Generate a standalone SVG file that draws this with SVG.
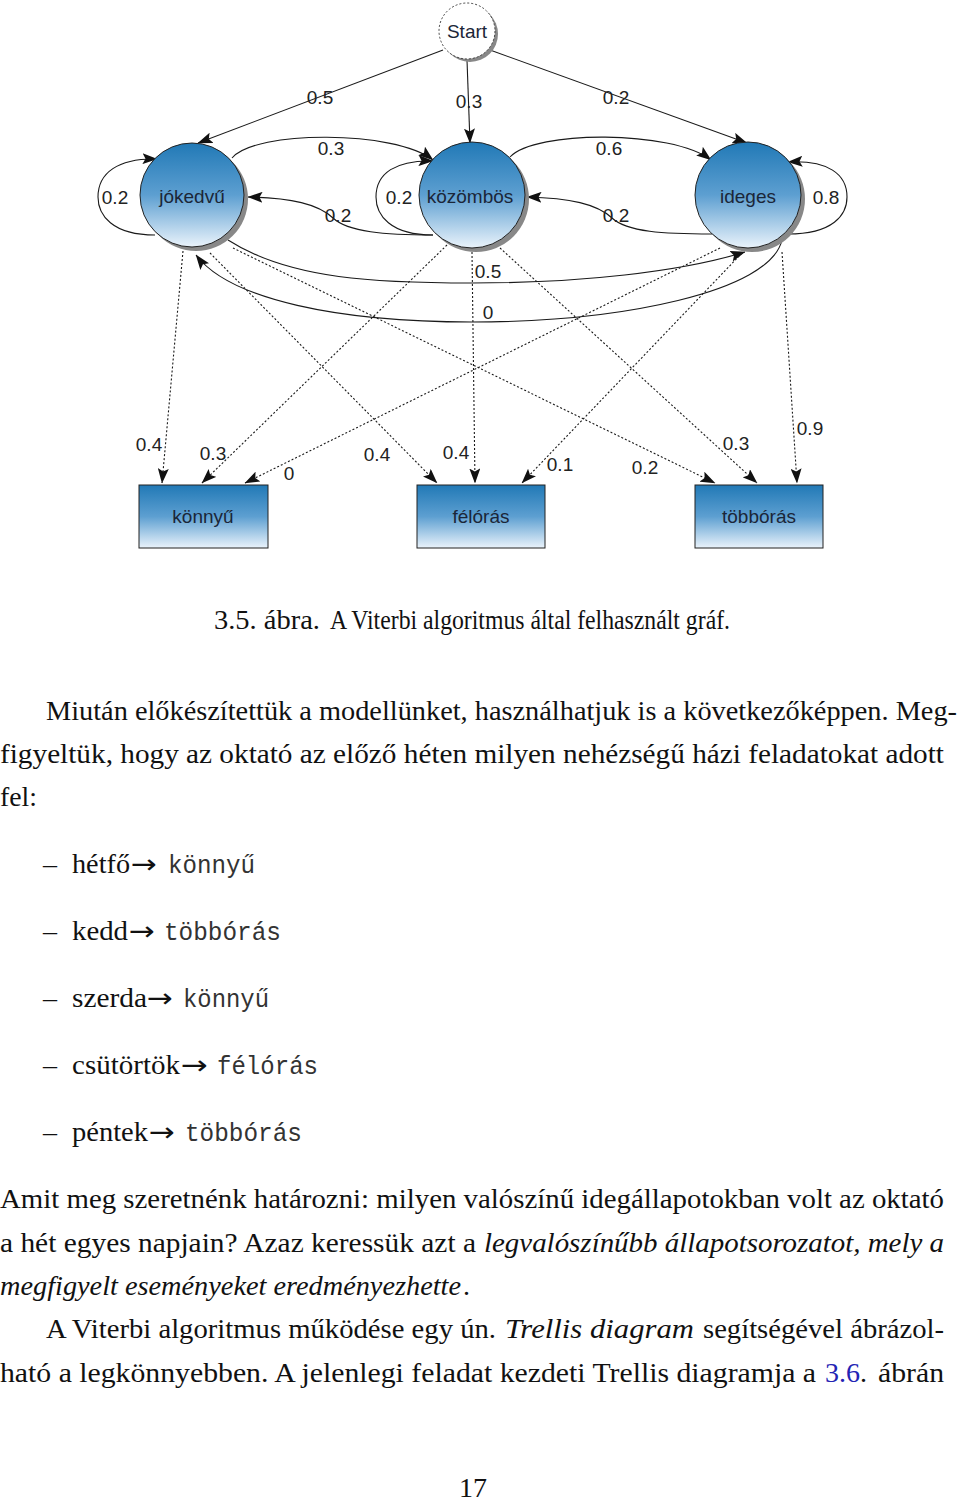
<svg xmlns="http://www.w3.org/2000/svg" width="960" height="1503" viewBox="0 0 960 1503">
<defs>
<linearGradient id="gBlue" x1="0" y1="0" x2="0" y2="1">
<stop offset="0" stop-color="#2179b6"/>
<stop offset="0.5" stop-color="#5d9fd1"/>
<stop offset="1" stop-color="#eaf3fb"/>
</linearGradient>
<marker id="ah" viewBox="0 0 15 11" refX="14.5" refY="5.5" markerWidth="15" markerHeight="11" orient="auto" markerUnits="userSpaceOnUse">
<path d="M0,0 L15,5.5 L0,11 L3,5.5 z" fill="#111"/>
</marker>
<style>
.edge{fill:none;stroke:#1a1a1a;stroke-width:1.1;marker-end:url(#ah)}
.dot{fill:none;stroke:#1a1a1a;stroke-width:1.1;stroke-dasharray:2 2;marker-end:url(#ah)}
.lbl{font-family:"Liberation Sans",Arial,sans-serif;font-size:19px;fill:#222;text-anchor:middle}
.nlbl{font-family:"Liberation Sans",Arial,sans-serif;font-size:19px;fill:#1b2638;text-anchor:middle}
.node{fill:url(#gBlue);stroke:#222;stroke-width:1}
.shadow{fill:#888}
.serif{font-family:"Liberation Serif","Times New Roman",serif;font-size:28px;fill:#111}
.it{font-style:italic}
.arr{font-family:"DejaVu Sans",sans-serif;font-size:26px;fill:#111}
.mono{font-family:"Liberation Mono","Courier New",monospace;font-size:25px;fill:#333}
</style>
</defs>
<rect width="960" height="1503" fill="#fff"/>

<g id="connectors">
<path class="edge" d="M443,50 L198,143"/>
<path class="edge" d="M467,60 L470,143"/>
<path class="edge" d="M490,50 L747,143"/>
<path class="edge" d="M232,158 C255,130 395,130 433,160"/>
<path class="edge" d="M510,157 C535,130 672,130 711,160"/>
<path class="edge" d="M433,235 C385,235 348,232 333,218 C318,204 292,198 248,197"/>
<path class="edge" d="M712,234 C664,234 627,232 612,218 C597,204 570,198 527,197"/>
<path class="edge" d="M155,235 C112,235 98,215 98,197 C98,173 118,158 157,159"/>
<path class="edge" d="M433,235 C390,235 376,215 376,197 C376,173 396,160 433,161"/>
<path class="edge" d="M788,234 C833,234 847,215 847,197 C847,174 828,160 788,162"/>
<path class="edge" d="M228,240 C290,280 380,283 472,283 C580,283 680,272 745,252"/>
<path class="edge" d="M782,240 C770,292 620,322 472,322 C340,322 230,300 196,255"/>
<path class="dot" d="M183,251 L162,483"/>
<path class="dot" d="M210,253 L437,483"/>
<path class="dot" d="M233,248 L715,483"/>
<path class="dot" d="M447,245 L202,483"/>
<path class="dot" d="M472,252 L475,483"/>
<path class="dot" d="M500,248 L757,483"/>
<path class="dot" d="M720,248 L245,483"/>
<path class="dot" d="M742,253 L522,483"/>
<path class="dot" d="M782,252 L797,483"/>
<text class="lbl" x="320" y="104">0.5</text>
<text class="lbl" x="469" y="108">0.3</text>
<text class="lbl" x="616" y="104">0.2</text>
<text class="lbl" x="331" y="155">0.3</text>
<text class="lbl" x="609" y="155">0.6</text>
<text class="lbl" x="115" y="204">0.2</text>
<text class="lbl" x="338" y="222">0.2</text>
<text class="lbl" x="399" y="204">0.2</text>
<text class="lbl" x="616" y="222">0.2</text>
<text class="lbl" x="826" y="204">0.8</text>
<text class="lbl" x="488" y="278">0.5</text>
<text class="lbl" x="488" y="319">0</text>
<text class="lbl" x="149" y="451">0.4</text>
<text class="lbl" x="213" y="460">0.3</text>
<text class="lbl" x="289" y="480">0</text>
<text class="lbl" x="377" y="461">0.4</text>
<text class="lbl" x="456" y="459">0.4</text>
<text class="lbl" x="560" y="471">0.1</text>
<text class="lbl" x="645" y="474">0.2</text>
<text class="lbl" x="736" y="450">0.3</text>
<text class="lbl" x="810" y="435">0.9</text>
</g>

<g id="node-start">
<circle class="shadow" cx="470" cy="34" r="28"/>
<circle cx="467" cy="31" r="28" fill="#fff" stroke="#444" stroke-width="1" stroke-dasharray="2 2"/>
<text class="nlbl" x="467" y="38">Start</text>
</g>
<g id="node-jokedvu">
<circle class="shadow" cx="196" cy="199" r="52"/>
<circle class="node" cx="192" cy="195" r="52"/>
<text class="nlbl" x="192" y="203">jókedvű</text>
</g>
<g id="node-kozombos">
<circle class="shadow" cx="476" cy="199" r="53"/>
<circle class="node" cx="472" cy="195" r="53"/>
<text class="nlbl" x="470" y="203">közömbös</text>
</g>
<g id="node-ideges">
<circle class="shadow" cx="752" cy="199" r="53"/>
<circle class="node" cx="748" cy="195" r="53"/>
<text class="nlbl" x="748" y="203">ideges</text>
</g>
<g id="node-konnyu">
<rect class="node" x="139" y="485" width="129" height="63"/>
<text class="nlbl" x="203" y="523">könnyű</text>
</g>
<g id="node-feloras">
<rect class="node" x="417" y="485" width="128" height="63"/>
<text class="nlbl" x="481" y="523">félórás</text>
</g>
<g id="node-tobboras">
<rect class="node" x="695" y="485" width="128" height="63"/>
<text class="nlbl" x="759" y="523">többórás</text>
</g>

<g id="text">
<text class="serif" x="214" y="629" font-size="25" textLength="106" lengthAdjust="spacingAndGlyphs">3.5. ábra.</text>
<text class="serif" x="330" y="629" font-size="21" textLength="400" lengthAdjust="spacingAndGlyphs">A Viterbi algoritmus által felhasznált gráf.</text>

<text class="serif" x="46" y="720" textLength="911" lengthAdjust="spacingAndGlyphs">Miután előkészítettük a modellünket, használhatjuk is a következőképpen. Meg-</text>
<text class="serif" x="0" y="763" textLength="944" lengthAdjust="spacingAndGlyphs">figyeltük, hogy az oktató az előző héten milyen nehézségű házi feladatokat adott</text>
<text class="serif" x="0" y="806" textLength="37" lengthAdjust="spacingAndGlyphs">fel:</text>

<text class="serif" x="43" y="873">–</text>
<text class="serif" x="72" y="873" textLength="58" lengthAdjust="spacingAndGlyphs">hétfő</text>
<text class="arr" x="131" y="873" textLength="26" lengthAdjust="spacingAndGlyphs">→</text>
<text class="mono" x="168" y="873" textLength="87" lengthAdjust="spacingAndGlyphs">könnyű</text>

<text class="serif" x="43" y="940">–</text>
<text class="serif" x="72" y="940" textLength="56" lengthAdjust="spacingAndGlyphs">kedd</text>
<text class="arr" x="129" y="940" textLength="26" lengthAdjust="spacingAndGlyphs">→</text>
<text class="mono" x="164" y="940" textLength="117" lengthAdjust="spacingAndGlyphs">többórás</text>

<text class="serif" x="43" y="1007">–</text>
<text class="serif" x="72" y="1007" textLength="75" lengthAdjust="spacingAndGlyphs">szerda</text>
<text class="arr" x="147" y="1007" textLength="26" lengthAdjust="spacingAndGlyphs">→</text>
<text class="mono" x="183" y="1007" textLength="86" lengthAdjust="spacingAndGlyphs">könnyű</text>

<text class="serif" x="43" y="1074">–</text>
<text class="serif" x="72" y="1074" textLength="108" lengthAdjust="spacingAndGlyphs">csütörtök</text>
<text class="arr" x="181" y="1074" textLength="27" lengthAdjust="spacingAndGlyphs">→</text>
<text class="mono" x="217" y="1074" textLength="101" lengthAdjust="spacingAndGlyphs">félórás</text>

<text class="serif" x="43" y="1141">–</text>
<text class="serif" x="72" y="1141" textLength="76" lengthAdjust="spacingAndGlyphs">péntek</text>
<text class="arr" x="149" y="1141" textLength="26" lengthAdjust="spacingAndGlyphs">→</text>
<text class="mono" x="185" y="1141" textLength="117" lengthAdjust="spacingAndGlyphs">többórás</text>

<text class="serif" x="0" y="1208" textLength="944" lengthAdjust="spacingAndGlyphs">Amit meg szeretnénk határozni: milyen valószínű idegállapotokban volt az oktató</text>
<text class="serif" x="0" y="1252" textLength="476" lengthAdjust="spacingAndGlyphs">a hét egyes napjain? Azaz keressük azt a</text>
<text class="serif it" x="484" y="1252" textLength="460" lengthAdjust="spacingAndGlyphs">legvalószínűbb állapotsorozatot, mely a</text>
<text class="serif it" x="0" y="1295" textLength="461" lengthAdjust="spacingAndGlyphs">megfigyelt eseményeket eredményezhette</text>
<text class="serif" x="463" y="1295">.</text>
<text class="serif" x="46" y="1338" textLength="450" lengthAdjust="spacingAndGlyphs">A Viterbi algoritmus működése egy ún.</text>
<text class="serif it" x="505" y="1338" textLength="189" lengthAdjust="spacingAndGlyphs">Trellis diagram</text>
<text class="serif" x="703" y="1338" textLength="241" lengthAdjust="spacingAndGlyphs">segítségével ábrázol-</text>
<text class="serif" x="0" y="1382" textLength="816" lengthAdjust="spacingAndGlyphs">ható a legkönnyebben. A jelenlegi feladat kezdeti Trellis diagramja a</text>
<text class="serif" x="825" y="1382" style="fill:#2424b4" textLength="35" lengthAdjust="spacingAndGlyphs">3.6</text>
<text class="serif" x="860" y="1382">.</text>
<text class="serif" x="878" y="1382" textLength="66" lengthAdjust="spacingAndGlyphs">ábrán</text>

<text class="serif" x="459" y="1497" textLength="28" lengthAdjust="spacingAndGlyphs">17</text>
</g>
</svg>
